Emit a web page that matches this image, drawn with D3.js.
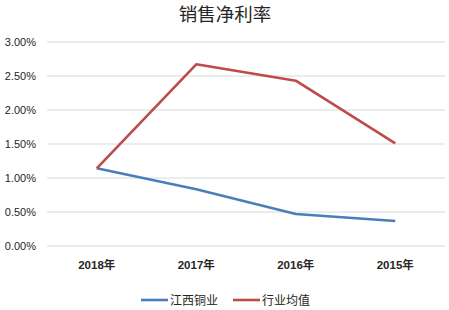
<!DOCTYPE html>
<html>
<head>
<meta charset="utf-8">
<script src="https://cdn.jsdelivr.net/npm/d3@7"></script>
<style>
  body { margin: 0; background: #fff; }
  text { font-family: "Liberation Sans", "Noto Sans CJK SC", sans-serif; }
</style>
</head>
<body>
<div id="chart"></div>
<script>
// data
const categories = ["2018年", "2017年", "2016年", "2015年"];
const jiangxiCopper = [1.143, 0.834, 0.47, 0.368];
const industryAvg = [1.143, 2.672, 2.431, 1.51];
const yTicks = [0, 0.5, 1, 1.5, 2, 2.5, 3];
const seriesNames = ["江西铜业", "行业均值"];
const colors = ["#4a7ebb", "#be4b48"];

const svgWidth = 449;
const svgHeight = 310;
const margin = { top: 42, bottom: 64, right: 4, left: 47 };
const width = svgWidth - margin.left - margin.right;
const height = svgHeight - margin.top - margin.bottom;

const svg = d3.select("#chart")
  .append("svg")
  .attr("width", svgWidth)
  .attr("height", svgHeight);

const g = svg.append("g")
  .attr("transform", `translate(${margin.left},${margin.top})`);

const XScale = d3.scaleBand(categories, [0, width]);
const YScale = d3.scaleLinear([0, 3], [height, 0]);

// gridlines
g.selectAll(".grid")
  .data(yTicks)
  .enter()
  .append("line")
  .attr("x1", 0)
  .attr("x2", width)
  .attr("y1", d => YScale(d))
  .attr("y2", d => YScale(d))
  .attr("stroke", "#d9d9d9")
  .attr("stroke-width", 1);

// y axis labels
const YAxis = d3.axisLeft(YScale).tickValues(yTicks).tickSize(0).tickPadding(11)
  .tickFormat(d => d.toFixed(2) + "%");
g.append("g")
  .call(YAxis)
  .call(a => a.select(".domain").remove())
  .selectAll("text")
  .style("font-size", "11px")
  .style("font-family", "Liberation Sans, sans-serif")
  .style("fill", "#262626");

// x axis labels
const XAxis = d3.axisBottom(XScale).tickSize(0).tickPadding(15);
g.append("g")
  .attr("transform", `translate(0,${height})`)
  .call(XAxis)
  .call(a => a.select(".domain").remove())
  .selectAll("text")
  .style("font-size", "11.5px")
  .style("font-weight", "bold")
  .style("fill", "#262626");

// lines
const line = d3.line()
  .x((d, i) => XScale(categories[i]) + XScale.bandwidth() / 2)
  .y(d => YScale(d));

[jiangxiCopper, industryAvg].forEach((s, k) => {
  g.append("path")
    .datum(s)
    .attr("d", line)
    .attr("fill", "none")
    .attr("stroke", colors[k])
    .attr("stroke-width", 2.6)
    .attr("stroke-linejoin", "round");
});

// title
svg.append("text")
  .attr("x", 225)
  .attr("y", 21)
  .attr("text-anchor", "middle")
  .style("font-size", "18.5px")
  .style("fill", "#262626")
  .text("销售净利率");

// legend
const legendX = [141, 233];
seriesNames.forEach((name, k) => {
  svg.append("line")
    .attr("x1", legendX[k])
    .attr("x2", legendX[k] + 27)
    .attr("y1", 300)
    .attr("y2", 300)
    .attr("stroke", colors[k])
    .attr("stroke-width", 2.6);
  svg.append("text")
    .attr("x", legendX[k] + 29)
    .attr("y", 304.5)
    .style("font-size", "12px")
    .style("fill", "#262626")
    .text(name);
});
</script>
</body>
</html>
